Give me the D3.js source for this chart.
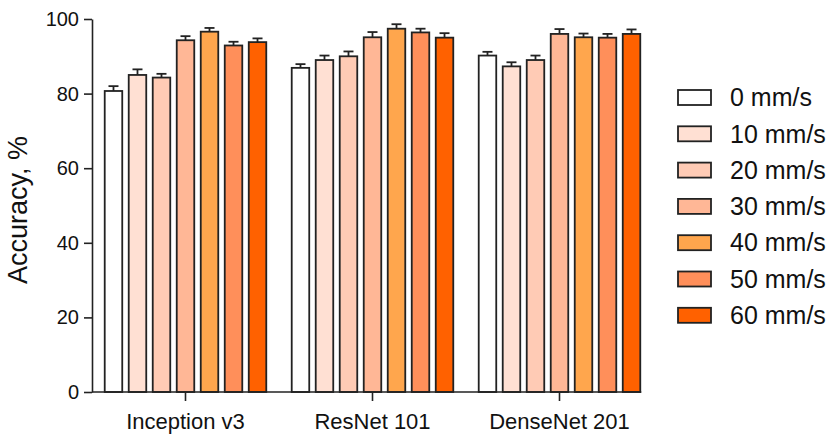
<!DOCTYPE html>
<html>
<head>
<meta charset="utf-8">
<script src="https://cdn.jsdelivr.net/npm/d3@7"></script>
<style>
  body { margin: 0; background: #fff; }
  text { font-family: "Liberation Sans", Arial, sans-serif; fill: #111; }
</style>
</head>
<body>
<svg id="graph" width="830" height="437"></svg>
<script>
const models = ["Inception v3", "ResNet 101", "DenseNet 201"];
const speeds = ["0 mm/s", "10 mm/s", "20 mm/s", "30 mm/s", "40 mm/s", "50 mm/s", "60 mm/s"];
const colors = ["#ffffff", "#ffe0d3", "#ffcbb5", "#ffb796", "#ffa64d", "#ff8f5a", "#ff6100"];
// accuracy per model, one entry per speed
const inceptionAcc = [80.7, 85.0, 84.3, 94.3, 96.6, 92.9, 93.8];
const resnetAcc = [86.9, 89.0, 90.0, 95.1, 97.4, 96.4, 95.0];
const densenetAcc = [90.2, 87.3, 89.0, 96.0, 95.1, 95.0, 96.0];
const inceptionErr = [1.3, 1.5, 1.0, 1.1, 1.0, 1.0, 1.0];
const resnetErr = [1.0, 1.2, 1.3, 1.4, 1.2, 1.0, 1.2];
const densenetErr = [1.0, 1.1, 1.2, 1.3, 1.0, 1.0, 1.2];
const yTicks = [0, 20, 40, 60, 80, 100];

const accs = [inceptionAcc, resnetAcc, densenetAcc];
const errs = [inceptionErr, resnetErr, densenetErr];
const data = models.flatMap((m, i) =>
  speeds.map((s, j) => ({ model: m, speed: s, value: accs[i][j], err: errs[i][j] }))
);

const svg = d3.select("#graph");

const x0 = d3.scaleBand().domain(models).range([92, 653]).paddingInner(0).paddingOuter(0);
const x1 = d3.scaleBand().domain(speeds).range([0, x0.bandwidth()]).paddingInner(0.27).paddingOuter(0.53);
const y = d3.scaleLinear().domain([0, 100]).range([392, 19]);
const color = d3.scaleOrdinal().domain(speeds).range(colors);

// bars
const bars = svg.append("g");
bars.selectAll("rect")
  .data(data)
  .join("rect")
  .attr("x", d => x0(d.model) + x1(d.speed))
  .attr("y", d => y(d.value))
  .attr("width", x1.bandwidth())
  .attr("height", d => y(0) - y(d.value))
  .attr("fill", d => color(d.speed))
  .attr("stroke", "#222")
  .attr("stroke-width", 1.8);

// error bars (upper only)
const eb = svg.append("g").attr("stroke", "#222").attr("stroke-width", 1.8);
eb.selectAll("line.v")
  .data(data)
  .join("line")
  .attr("class", "v")
  .attr("x1", d => x0(d.model) + x1(d.speed) + x1.bandwidth() / 2)
  .attr("x2", d => x0(d.model) + x1(d.speed) + x1.bandwidth() / 2)
  .attr("y1", d => y(d.value))
  .attr("y2", d => y(d.value + d.err));
eb.selectAll("line.c")
  .data(data)
  .join("line")
  .attr("class", "c")
  .attr("x1", d => x0(d.model) + x1(d.speed) + x1.bandwidth() / 2 - 5)
  .attr("x2", d => x0(d.model) + x1(d.speed) + x1.bandwidth() / 2 + 5)
  .attr("y1", d => y(d.value + d.err))
  .attr("y2", d => y(d.value + d.err));

// y axis
svg.append("g")
  .attr("transform", "translate(92,0)")
  .call(d3.axisLeft(y).tickValues(yTicks).tickSize(8).tickSizeOuter(0).tickPadding(5))
  .call(g => g.selectAll("line, path").attr("stroke", "#222").attr("stroke-width", 1.6))
  .call(g => g.selectAll("text").attr("font-size", 20).attr("font-family", "Liberation Sans, Arial, sans-serif").attr("fill", "#111"));

// x axis
const lastEnd = x0(models[models.length - 1]) + x1(speeds[speeds.length - 1]) + x1.bandwidth();
svg.append("g")
  .attr("transform", "translate(0,392)")
  .call(d3.axisBottom(x0).tickSize(9).tickSizeOuter(0).tickPadding(12))
  .call(g => g.select(".domain").remove())
  .call(g => g.append("line").attr("x1", 92).attr("x2", lastEnd + 1).attr("stroke", "#222").attr("stroke-width", 1.6))
  .call(g => g.selectAll(".tick line").attr("stroke", "#222").attr("stroke-width", 1.6))
  .call(g => g.selectAll("text").attr("font-size", 22).attr("font-family", "Liberation Sans, Arial, sans-serif").attr("fill", "#111"));

// y title
svg.append("text")
  .attr("transform", "translate(27,210) rotate(-90)")
  .attr("text-anchor", "middle")
  .attr("font-size", 27)
  .text("Accuracy, %");

// legend
const legend = svg.append("g").attr("transform", "translate(678,90)");
const row = legend.selectAll("g")
  .data(speeds)
  .join("g")
  .attr("transform", (d, i) => `translate(0,${i * 36.3})`);
row.append("rect")
  .attr("width", 33)
  .attr("height", 15)
  .attr("fill", d => color(d))
  .attr("stroke", "#222")
  .attr("stroke-width", 1.8);
row.append("text")
  .attr("x", 52)
  .attr("y", 7.5)
  .attr("dy", "0.35em")
  .attr("font-size", 25)
  .text(d => d);
</script>
</body>
</html>
